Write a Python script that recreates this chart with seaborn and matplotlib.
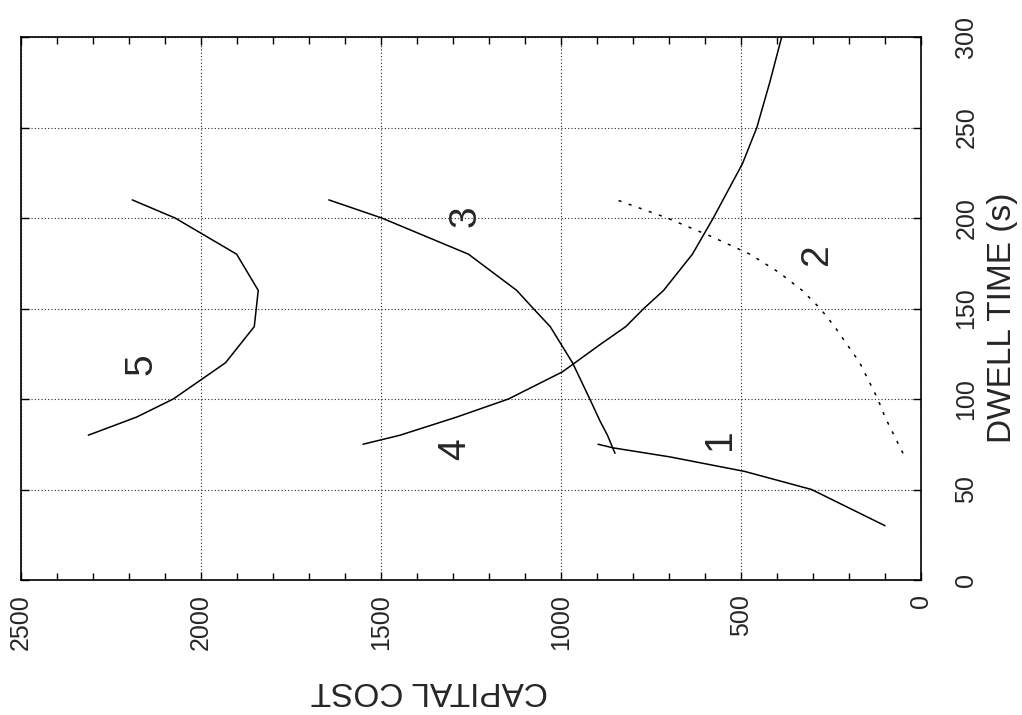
import matplotlib
matplotlib.use("Agg")
import matplotlib.pyplot as plt
import seaborn as sns
import pandas as pd
from matplotlib.ticker import MultipleLocator

dwell_1 = [30, 40, 50, 60, 68, 73, 75]
cost_1 = [100, 202, 304, 490, 697, 855, 897]

dwell_2 = [70, 80, 90, 100, 120, 130, 140, 150, 160, 170, 180, 190, 200, 210]
cost_2 = [50, 75, 100, 120, 170, 205, 240, 280, 330, 395, 475, 585, 705, 845]

dwell_3 = [70, 80, 88, 100, 120, 140, 150, 160, 180, 200, 210]
cost_3 = [850, 871, 892, 920, 968, 1030, 1077, 1123, 1257, 1498, 1645]

dwell_4 = [75, 80, 90, 100, 115, 130, 140, 150, 160, 180, 200, 230, 250, 275, 300]
cost_4 = [1550, 1447, 1290, 1146, 996, 892, 820, 770, 715, 635, 577, 496, 456, 420, 387]

dwell_5 = [80, 90, 100, 120, 140, 160, 180, 200, 210]
cost_5 = [2313, 2179, 2077, 1932, 1852, 1841, 1901, 2072, 2191]

curve_names = ["1", "2", "3", "4", "5"]
label_cost = [558, 290, 1264, 1295, 2165]
label_dwell = [78, 180, 201, 72, 119]

cost_ticks = [0, 500, 1000, 1500, 2000, 2500]
dwell_ticks = [0, 50, 100, 150, 200, 250, 300]

sns.set_style("white")
plt.rcParams['font.family'] = ['Liberation Sans', 'DejaVu Sans']

fig = plt.figure(figsize=(10.22, 7.15), dpi=100)
ax = fig.add_axes([21 / 1022, 1 - 580 / 715, 900 / 1022, 543 / 715])

curves = [(dwell_1, cost_1), (dwell_2, cost_2), (dwell_3, cost_3),
          (dwell_4, cost_4), (dwell_5, cost_5)]
for i, (d, c) in enumerate(curves):
    df = pd.DataFrame({'cost': c, 'dwell': d})
    ls = (0, (2, 5)) if i == 1 else '-'
    sns.lineplot(data=df, x='cost', y='dwell', ax=ax, color='black',
                 linewidth=1.1, linestyle=ls, sort=False, estimator=None,
                 orient='y', legend=False)

# curve numbers
for name, c, d in zip(curve_names, label_cost, label_dwell):
    ax.text(c, d, name, rotation=90, ha='center', va='center', fontsize=28)

ax.set_xlim(2500, 0)
ax.set_ylim(0, 300)
ax.set_xticks(cost_ticks)
ax.set_yticks(dwell_ticks)
ax.xaxis.set_minor_locator(MultipleLocator(100))
ax.yaxis.tick_right()
ax.grid(True, which='major', color='0.15', linestyle=(0, (1, 2)), linewidth=0.8)

ax.tick_params(axis='both', which='both', direction='in', top=True, bottom=True,
               left=True, right=True, color='black')
ax.tick_params(which='major', length=6, width=1)
ax.tick_params(which='minor', length=5, width=1)
ax.tick_params(axis='x', labelsize=18, pad=10, labelrotation=90)
ax.tick_params(axis='y', labelsize=18, pad=24, labelrotation=90)
for lab in ax.get_yticklabels():
    lab.set_va('center')
    lab.set_ha('left')

for s in ax.spines.values():
    s.set_visible(True)
    s.set_color('black')
    s.set_linewidth(1.2)

ax.set_xlabel('CAPITAL COST', rotation=180, fontsize=24, ha='center', va='center')
ax.xaxis.set_label_coords(0.454, -0.203)
ax.yaxis.set_label_position('right')
ax.set_ylabel('DWELL TIME (s)', rotation=90, fontsize=24, ha='center', va='center')
ax.yaxis.set_label_coords(1.091, 0.4825)

fig.savefig('out.png', dpi=100)
